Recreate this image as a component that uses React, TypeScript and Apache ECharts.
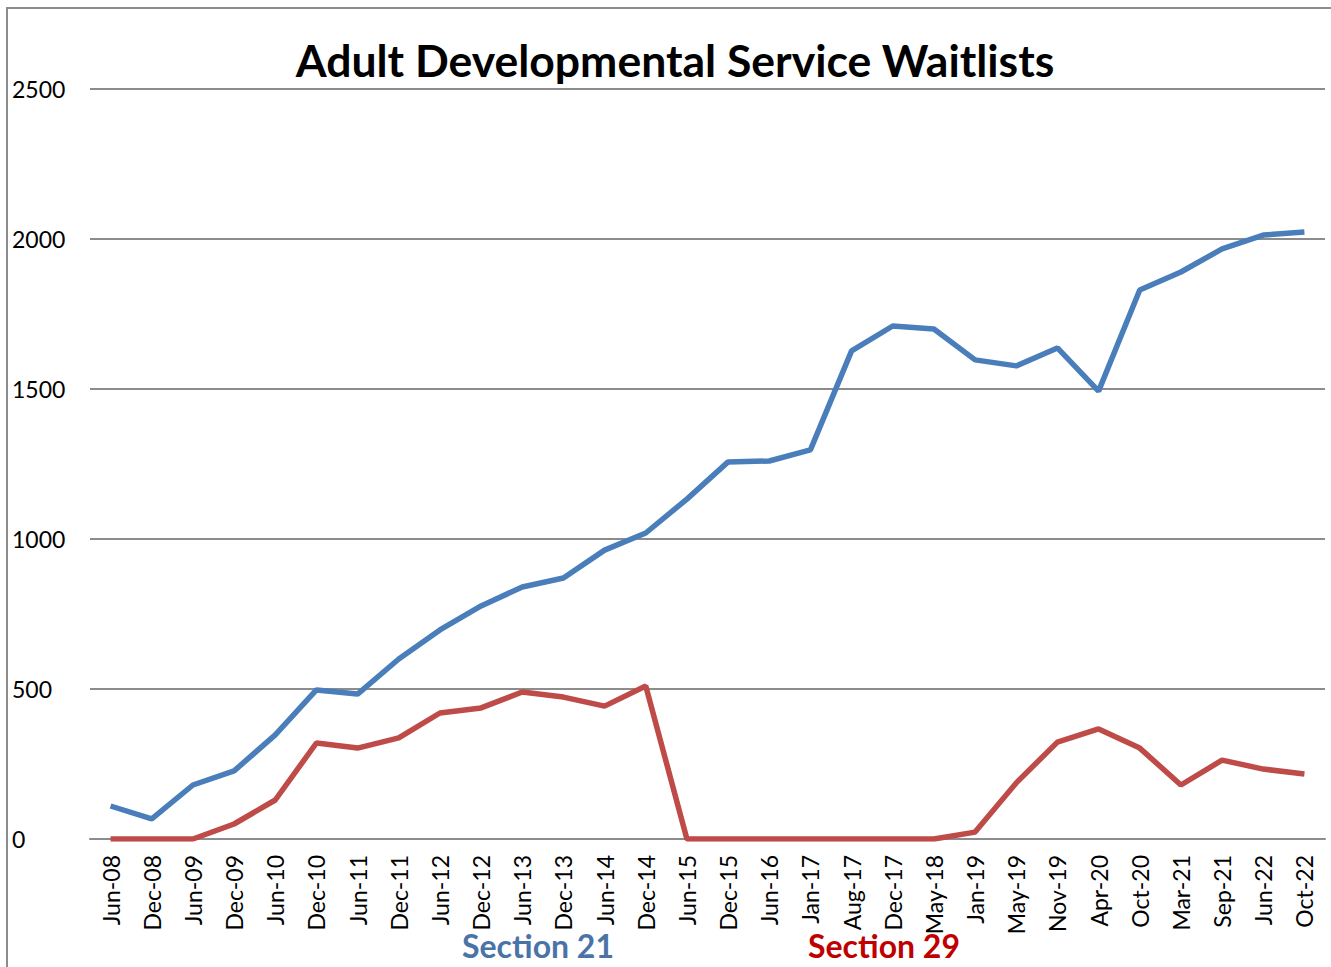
import React, { useEffect, useRef } from "react";
import * as echarts from "echarts";

const categories = [
  "Jun-08", "Dec-08", "Jun-09", "Dec-09", "Jun-10", "Dec-10", "Jun-11", "Dec-11",
  "Jun-12", "Dec-12", "Jun-13", "Dec-13", "Jun-14", "Dec-14", "Jun-15", "Dec-15",
  "Jun-16", "Jan-17", "Aug-17", "Dec-17", "May-18", "Jan-19", "May-19", "Nov-19",
  "Apr-20", "Oct-20", "Mar-21", "Sep-21", "Jun-22", "Oct-22",
];

const section21 = [
  110, 67, 180, 227, 347, 497, 483, 600, 697, 777, 840, 870, 963, 1020, 1133, 1257,
  1260, 1297, 1627, 1710, 1700, 1597, 1577, 1637, 1493, 1830, 1890, 1967, 2013, 2023,
];

const section29 = [
  0, 0, 0, 50, 130, 320, 303, 337, 420, 437, 490, 473, 443, 510, 0, 0,
  0, 0, 0, 0, 0, 23, 187, 323, 367, 303, 180, 263, 233, 217,
];

const yTicks = { min: 0, max: 2500, interval: 500 };

const FONT = "Lato, 'Open Sans', 'DejaVu Sans', sans-serif";

export default function App() {
  const ref = useRef<HTMLDivElement>(null);
  useEffect(() => {
    if (!ref.current) return;
    const chart = echarts.init(ref.current, null, { renderer: "svg" });
    chart.setOption({
      animation: false,
      backgroundColor: "#ffffff",
      title: {
        text: "Adult Developmental Service Waitlists",
        left: 670,
        top: 32,
        textAlign: "center",
        textStyle: { fontFamily: FONT, fontWeight: "bold", fontSize: 44.5, color: "#000" },
      },
      grid: { left: 90, right: 6, top: 89, bottom: 128 },
      xAxis: {
        type: "category",
        data: categories,
        boundaryGap: true,
        axisLine: { show: true, lineStyle: { color: "#8c8c8c", width: 2 } },
        axisTick: { show: false },
        axisLabel: {
          rotate: 90,
          interval: 0,
          margin: 16,
          fontFamily: FONT,
          fontSize: 23,
          color: "#000",
        },
      },
      yAxis: {
        type: "value",
        min: yTicks.min,
        max: yTicks.max,
        interval: yTicks.interval,
        axisLine: { show: false },
        axisTick: { show: false },
        axisLabel: {
          align: "left",
          margin: 78,
          fontFamily: FONT,
          fontSize: 23,
          color: "#000",
          formatter: (v: number) => String(v),
        },
        splitLine: { lineStyle: { color: "#8c8c8c", width: 2 } },
      },
      series: [
        {
          name: "Section 21",
          type: "line",
          data: section21,
          symbol: "none",
          lineStyle: { color: "#4a7ebb", width: 5.5 },
          itemStyle: { color: "#4a7ebb" },
        },
        {
          name: "Section 29",
          type: "line",
          data: section29,
          symbol: "none",
          lineStyle: { color: "#be4b48", width: 5.5 },
          itemStyle: { color: "#be4b48" },
        },
      ],
      graphic: [
        {
          type: "rect",
          shape: { x: 7, y: 8, width: 1340, height: 980 },
          style: { fill: "none", stroke: "#8c8c8c", lineWidth: 2 },
          silent: true,
        },
        {
          type: "text",
          x: 538,
          y: 945,
          style: {
            text: "Section 21",
            fontFamily: FONT,
            fontWeight: "bold",
            fontSize: 32,
            fill: "#4a74a8",
            align: "center",
            verticalAlign: "middle",
          },
        },
        {
          type: "text",
          x: 884,
          y: 945,
          style: {
            text: "Section 29",
            fontFamily: FONT,
            fontWeight: "bold",
            fontSize: 32,
            fill: "#c00000",
            align: "center",
            verticalAlign: "middle",
          },
        },
      ],
    });
    return () => chart.dispose();
  }, []);
  return (
    <div
      ref={ref}
      style={{ position: "absolute", left: 0, top: 0, width: 1331, height: 967 }}
    />
  );
}
